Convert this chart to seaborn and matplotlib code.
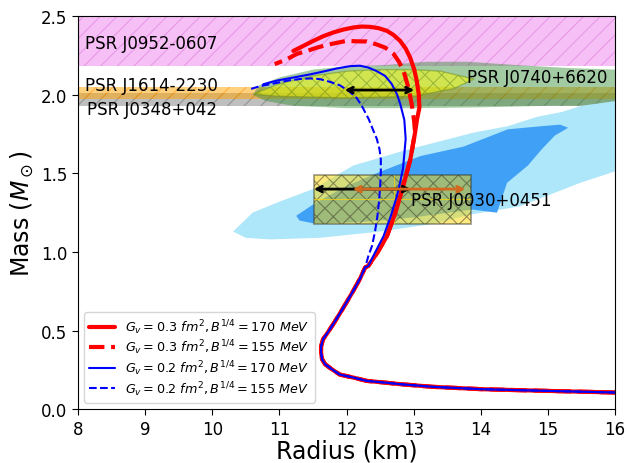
import matplotlib
matplotlib.use("Agg")
import matplotlib.pyplot as plt
import seaborn as sns
from matplotlib.patches import Rectangle, Polygon

# ---- mass-radius curves ----
# shared low-mass branch
low_R = [16.0, 15.02, 14.02, 13.29, 12.8, 12.55, 12.3, 12.1, 11.9, 11.78, 11.68, 11.635, 11.62,
         11.62, 11.65, 11.72, 11.8, 11.9, 12.0, 12.1, 12.2, 12.276]
low_M = [0.106, 0.116, 0.127, 0.142, 0.159, 0.17, 0.18, 0.201, 0.22, 0.254, 0.286, 0.318, 0.36,
         0.399, 0.445, 0.488, 0.54, 0.609, 0.68, 0.753, 0.83, 0.901]

red_mid_R = [12.325, 12.46, 12.6, 12.71, 12.8, 12.877, 12.95, 12.985, 13.02]
red_mid_M = [0.912, 0.997, 1.10, 1.23, 1.357, 1.474, 1.59, 1.675, 1.76]

red_solid_R = low_R + red_mid_R + [13.05, 13.085, 13.075, 13.045, 13.006, 12.946, 12.88, 12.797,
                                   12.697, 12.6, 12.474, 12.35, 12.226, 12.1, 11.953, 11.8,
                                   11.655, 11.505, 11.357, 11.207]
red_solid_M = low_M + red_mid_M + [1.845, 1.919, 2.004, 2.088, 2.163, 2.237, 2.294, 2.343,
                                   2.381, 2.407, 2.424, 2.432, 2.434, 2.428, 2.415, 2.396,
                                   2.373, 2.343, 2.311, 2.279]

red_dash_R = low_R + red_mid_R + [13.006, 12.97, 12.92, 12.85, 12.78, 12.7, 12.574, 12.45, 12.30,
                                  12.15, 12.0, 11.85, 11.705, 11.56, 11.41, 11.26, 11.11, 10.93]
red_dash_M = low_M + red_mid_M + [1.834, 1.94, 2.046, 2.15, 2.21, 2.26, 2.30, 2.32, 2.339,
                                  2.34, 2.343, 2.33, 2.317, 2.30, 2.279, 2.26, 2.226, 2.195]

blue_solid_R = low_R + [12.325, 12.425, 12.55, 12.66, 12.75, 12.797, 12.84, 12.86, 12.88, 12.86,
                        12.8, 12.75, 12.67, 12.574, 12.45, 12.325, 12.2, 12.05, 11.85, 11.655,
                        11.46, 11.21, 10.96, 10.76]
blue_solid_M = low_M + [0.912, 0.997, 1.10, 1.23, 1.357, 1.442, 1.53, 1.622, 1.72, 1.84,
                        1.94, 2.004, 2.07, 2.12, 2.15, 2.173, 2.185, 2.182, 2.167, 2.148,
                        2.13, 2.11, 2.09, 2.067]

blue_dash_R = low_R + [12.325, 12.38, 12.425, 12.46, 12.484, 12.5, 12.51, 12.51, 12.49, 12.45,
                       12.39, 12.33, 12.226, 12.15, 12.03, 11.9, 11.754, 11.6, 11.456, 11.31,
                       11.158, 11.01, 10.86, 10.71, 10.56]
blue_dash_M = low_M + [0.975, 1.04, 1.134, 1.23, 1.325, 1.42, 1.505, 1.59, 1.654, 1.72,
                       1.781, 1.845, 1.93, 1.98, 2.025, 2.06, 2.082, 2.10, 2.104, 2.10,
                       2.093, 2.08, 2.067, 2.055, 2.035]

labels = [r'$G_v=0.3\ fm^2, B^{1/4}=170\ MeV$',
          r'$G_v=0.3\ fm^2, B^{1/4}=155\ MeV$',
          r'$G_v=0.2\ fm^2, B^{1/4}=170\ MeV$',
          r'$G_v=0.2\ fm^2, B^{1/4}=155\ MeV$']

# ---- observational constraints ----
j0952_M = [2.18, 2.52]
j1614_M = [1.97, 2.05]
j0348_M = [1.93, 2.01]

# J0740+6620 regions
j0740_out_R = [10.6, 10.7, 11.0, 11.5, 12.0, 12.6, 13.2, 13.8, 14.5, 15.3, 16.0, 16.2,
               16.2, 15.0, 14.0, 13.0, 12.0, 11.2, 10.8]
j0740_out_M = [2.0, 2.06, 2.11, 2.16, 2.18, 2.19, 2.21, 2.21, 2.19, 2.17, 2.16, 2.16,
               1.93, 1.93, 1.92, 1.915, 1.915, 1.93, 1.96]
j0740_in_R = [10.64, 11.0, 11.5, 12.0, 12.5, 13.0, 13.4, 13.7, 13.9, 13.6, 13.0, 12.0, 11.0, 10.7]
j0740_in_M = [2.01, 2.07, 2.12, 2.15, 2.16, 2.16, 2.15, 2.12, 2.10, 2.04, 1.99, 1.98, 1.99, 2.0]

# J0030+0451 regions
j0030_out_R = [10.31, 10.6, 11.0, 11.5, 12.1, 12.5, 12.9, 13.9, 14.4, 14.84, 15.2, 15.5, 16.0, 16.05,
               16.05, 15.48, 14.58, 13.87, 13.3, 12.5, 11.6, 10.86, 10.5]
j0030_out_M = [1.13, 1.25, 1.32, 1.40, 1.55, 1.60, 1.65, 1.76, 1.80, 1.86, 1.89, 1.93, 1.96, 1.96,
               1.52, 1.44, 1.29, 1.24, 1.18, 1.13, 1.09, 1.08, 1.09]
j0030_in_R = [11.25, 11.53, 12.0, 12.5, 13.1, 13.74, 14.4, 14.9, 15.18, 15.3, 15.1, 14.9, 14.7,
              14.39, 14.24, 13.87, 13.0, 12.2, 11.53, 11.3]
j0030_in_M = [1.23, 1.31, 1.42, 1.51, 1.61, 1.67, 1.78, 1.80, 1.81, 1.79, 1.74, 1.65, 1.55,
              1.44, 1.25, 1.27, 1.22, 1.19, 1.18, 1.20]

# J0030 box (Riley et al.)
j0030_R, j0030_Rlo, j0030_Rhi = 12.71, 1.19, 1.14
j0030_Mc, j0030_Mlo, j0030_Mhi = 1.34, 0.16, 0.15

# arrows (radius ranges)
arrow_0740 = (11.93, 13.05, 2.03)
arrow_0030_black = (11.47, 13.0, 1.40)
arrow_0030_orange = (12.05, 13.81, 1.40)

sns.set_style("ticks")
plt.rcParams['hatch.linewidth'] = 0.8
plt.rcParams['text.color'] = 'black'
plt.rcParams['axes.labelcolor'] = 'black'

fig = plt.figure(figsize=(6.29, 4.64), dpi=100)
ax = fig.add_axes([0.124, 0.116, 0.854, 0.847])

# bands
ax.axhspan(j0952_M[0], j0952_M[1], facecolor='violet', edgecolor='orchid', alpha=0.5, hatch='//', lw=0)
ax.axhspan(j0348_M[0], j0348_M[1], facecolor='gray', edgecolor='dimgray', alpha=0.5, hatch='//', lw=0)
ax.axhspan(j1614_M[0], j1614_M[1], facecolor='orange', edgecolor='darkorange', alpha=0.5, hatch='//', lw=0)

# J0740
ax.add_patch(Polygon(list(zip(j0740_out_R, j0740_out_M)), closed=True,
                     facecolor=(0.2, 0.55, 0.2), alpha=0.45, lw=0))
ax.add_patch(Polygon(list(zip(j0740_in_R, j0740_in_M)), closed=True,
                     facecolor='yellow', edgecolor='olivedrab', alpha=0.5, hatch='xx', lw=1))

# J0030
ax.add_patch(Polygon(list(zip(j0030_out_R, j0030_out_M)), closed=True,
                     facecolor='#aee6fa', lw=0))
ax.add_patch(Polygon(list(zip(j0030_in_R, j0030_in_M)), closed=True,
                     facecolor='#3fa0f5', lw=0))
ax.add_patch(Rectangle((j0030_R - j0030_Rlo, j0030_Mc - j0030_Mlo), j0030_Rlo + j0030_Rhi,
                       j0030_Mlo + j0030_Mhi, facecolor='gold', edgecolor='#333322',
                       alpha=0.5, hatch='xx', lw=1.2))
ax.errorbar([j0030_R], [j0030_Mc], xerr=[[j0030_Rlo], [j0030_Rhi]], yerr=[[j0030_Mlo], [j0030_Mhi]],
            color='gold', lw=0.7, alpha=0.7)

# curves
sns.lineplot(x=red_solid_R, y=red_solid_M, sort=False, estimator=None, color='red', lw=3,
             label=labels[0], ax=ax)
sns.lineplot(x=red_dash_R, y=red_dash_M, sort=False, estimator=None, color='red', lw=3,
             ls='--', label=labels[1], ax=ax)
sns.lineplot(x=blue_solid_R, y=blue_solid_M, sort=False, estimator=None, color='blue', lw=1.5,
             label=labels[2], ax=ax)
sns.lineplot(x=blue_dash_R, y=blue_dash_M, sort=False, estimator=None, color='blue', lw=1.5,
             ls='--', label=labels[3], ax=ax)

# arrows
for (x0, x1, yy), col in [(arrow_0740, 'black'), (arrow_0030_black, 'black'),
                          (arrow_0030_orange, 'chocolate')]:
    ax.annotate('', xy=(x1, yy), xytext=(x0, yy),
                arrowprops=dict(arrowstyle='<->', color=col, lw=2))

# labels
ax.text(8.1, 2.30, 'PSR J0952-0607', fontsize=12)
ax.text(8.1, 2.03, 'PSR J1614-2230', fontsize=12)
ax.text(8.13, 1.877, 'PSR J0348+042', fontsize=12)
ax.text(13.79, 2.082, 'PSR J0740+6620', fontsize=12)
ax.text(12.96, 1.298, 'PSR J0030+0451', fontsize=12)

ax.set_xlim(8, 16)
ax.set_ylim(0, 2.5)
ax.set_xticks(range(8, 17))
ax.set_yticks([0.0, 0.5, 1.0, 1.5, 2.0, 2.5])
ax.tick_params(labelsize=12, colors='black', direction='out', length=4)
for s in ax.spines.values():
    s.set_color('black')
ax.set_xlabel('Radius (km)', fontsize=17, labelpad=1)
ax.set_ylabel(r'Mass ($M_\odot$)', fontsize=17)
ax.legend(loc='lower left', fontsize=9.2, frameon=True, labelspacing=0.15)

fig.savefig('out.png', dpi=100)
